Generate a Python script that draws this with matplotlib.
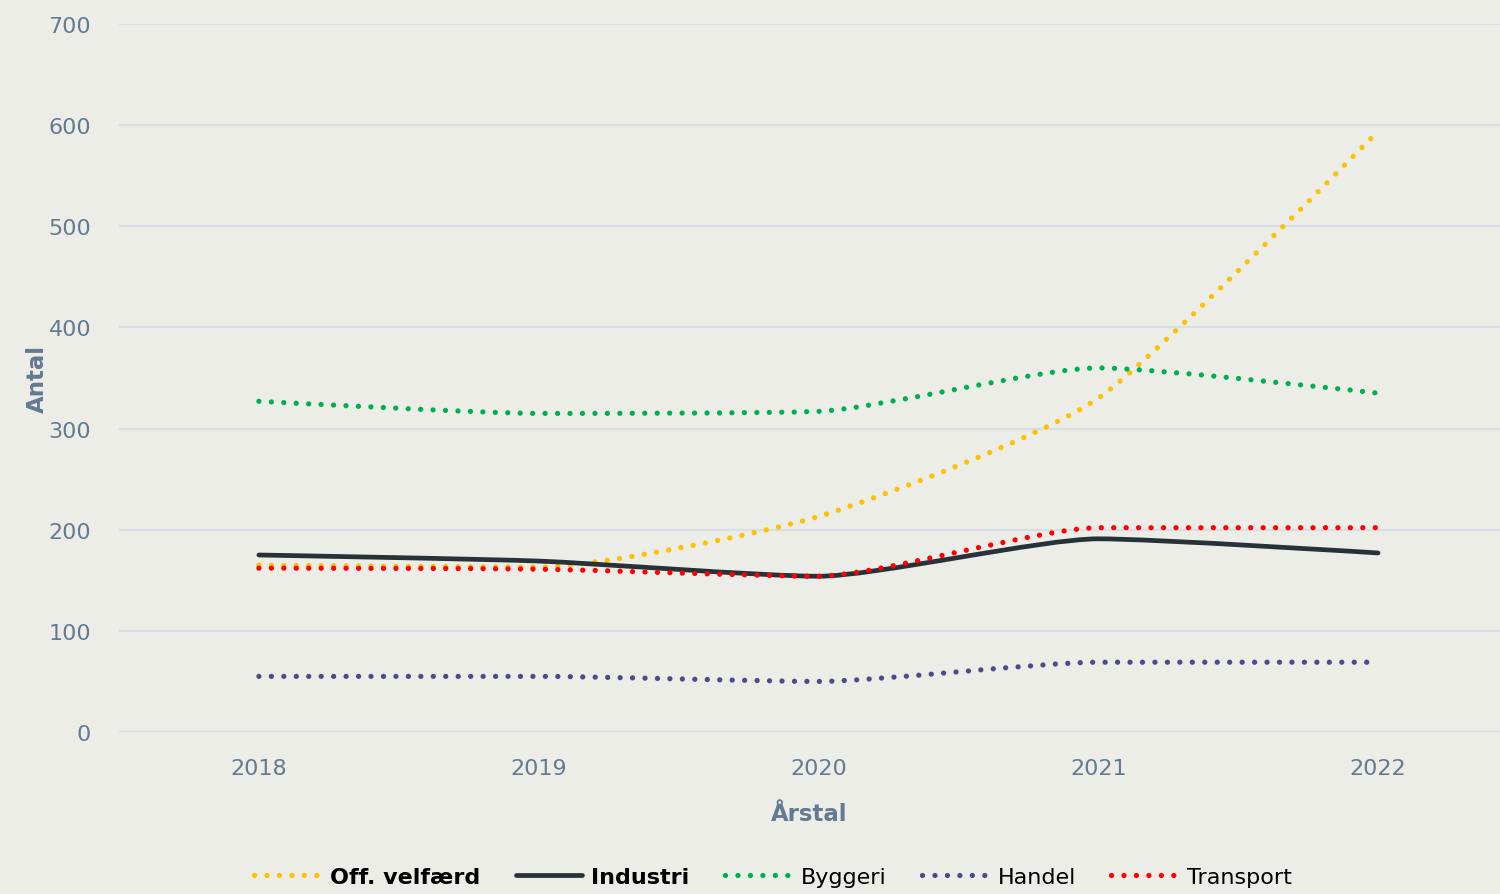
import matplotlib
matplotlib.use("Agg")
import matplotlib.pyplot as plt
from matplotlib.path import Path
from matplotlib.patches import PathPatch
from matplotlib.lines import Line2D

years = [2018, 2019, 2020, 2021, 2022]
off_velfaerd = [165, 163, 213, 330, 594]
industri = [175, 169, 154, 191, 177]
byggeri = [327, 315, 317, 360, 335]
handel = [55, 55, 50, 69, 69]
transport = [162, 161, 154, 202, 202]

series = [
    ("Off. velfærd", off_velfaerd, "#FFC000", "dot"),
    ("Industri", industri, "#263238", "solid"),
    ("Byggeri", byggeri, "#00B050", "dot"),
    ("Handel", handel, "#4B4C85", "dot"),
    ("Transport", transport, "#FF0000", "dot"),
]

BG = "#EDEDE8"
TICK = "#647A91"
DOT_LW = 3.8
DOT_STYLE = (0, (0.01, 2.35))


def spline_path(xs, ys, smoothing=4.0):
    """Gently rounded curve through the points (cubic bezier, spline-style control points)."""
    n = len(xs)
    left, right = [None] * n, [None] * n
    for i in range(n):
        x, y = xs[i], ys[i]
        if i == 0 or i == n - 1:
            left[i] = right[i] = (x, y)
            continue
        px, py = xs[i - 1], ys[i - 1]
        nx, ny = xs[i + 1], ys[i + 1]
        d = smoothing + 1
        lx, ly = (smoothing * x + px) / d, (smoothing * y + py) / d
        rx, ry = (smoothing * x + nx) / d, (smoothing * y + ny) / d
        if rx != lx:
            corr = ((ry - ly) * (rx - x)) / (rx - lx) + y - ry
            ly += corr
            ry += corr
        if ly > max(py, y):
            ly = max(py, y); ry = 2 * y - ly
        elif ly < min(py, y):
            ly = min(py, y); ry = 2 * y - ly
        if ry > max(ny, y):
            ry = max(ny, y); ly = 2 * y - ry
        elif ry < min(ny, y):
            ry = min(ny, y); ly = 2 * y - ry
        left[i], right[i] = (lx, ly), (rx, ry)
    verts = [(xs[0], ys[0])]
    codes = [Path.MOVETO]
    for i in range(n - 1):
        verts += [right[i], left[i + 1], (xs[i + 1], ys[i + 1])]
        codes += [Path.CURVE4] * 3
    return Path(verts, codes)


fig = plt.figure(figsize=(15, 8.95), dpi=100, facecolor=BG)
ax = fig.add_axes([119 / 1500, 1 - 733 / 895, (1500 - 119) / 1500, (733 - 25) / 895])
ax.set_facecolor(BG)

handles = []
for label, vals, color, style in series:
    if style == "dot":
        kw = dict(linewidth=DOT_LW, linestyle=DOT_STYLE, capstyle="round")
        lkw = dict(linewidth=DOT_LW, linestyle=DOT_STYLE, dash_capstyle="round")
    else:
        kw = dict(linewidth=3.4, linestyle="-", capstyle="round", joinstyle="round")
        lkw = dict(linewidth=3.4, linestyle="-", solid_capstyle="round")
    patch = PathPatch(spline_path(years, vals), facecolor="none", edgecolor=color, zorder=3, **kw)
    ax.add_patch(patch)
    handles.append(Line2D([], [], color=color, label=label, **lkw))

ax.set_xlim(2017.5, 2022.436)
ax.set_ylim(0, 700)
ax.set_xticks(years)
ax.set_yticks(range(0, 701, 100))
ax.grid(axis="y", color="#DADDE3", linewidth=1.6)
ax.set_axisbelow(True)
for s in ax.spines.values():
    s.set_visible(False)
ax.tick_params(axis="both", length=0, labelsize=16, labelcolor=TICK)
ax.tick_params(axis="x", pad=19)
ax.tick_params(axis="y", pad=20)

ax.set_xlabel("Årstal", fontsize=16.5, fontweight="bold", color=TICK, labelpad=17)
ax.set_ylabel("Antal", fontsize=16.5, fontweight="bold", color=TICK, labelpad=0)

leg = fig.legend(handles=handles, loc="lower center", bbox_to_anchor=(773 / 1500, -0.014),
                 ncol=5, frameon=False, fontsize=16, handlelength=3.0, handletextpad=0.4,
                 columnspacing=1.6)
for t in leg.get_texts()[:2]:
    t.set_fontweight("bold")

fig.savefig("out.png", dpi=100, facecolor=BG)
